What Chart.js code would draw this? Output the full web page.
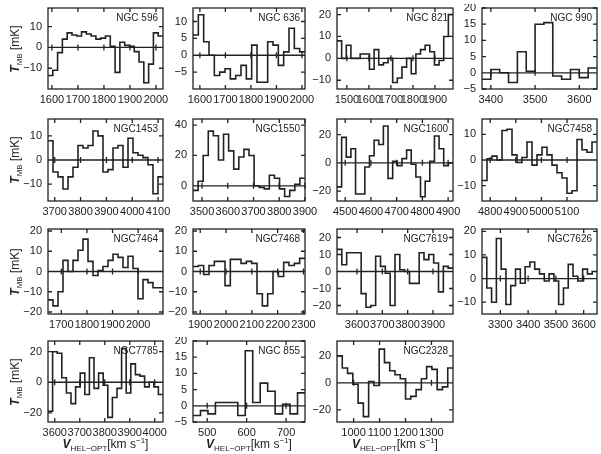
<!DOCTYPE html>
<html>
<head>
<meta charset="utf-8">
<script src="https://cdn.jsdelivr.net/npm/chart.js@4.4.1/dist/chart.umd.min.js"></script>
<style>
  body { margin: 0; background: #fff; width: 601px; height: 454px; position: relative; overflow: hidden;
         font-family: "Liberation Sans", Arial, sans-serif; color: #222; }
  canvas { position: absolute; }
  .ytitle { position: absolute; transform: translate(-50%, -50%) rotate(-90deg); font-size: 12px; white-space: nowrap; line-height: 1; }
  .xtitle { position: absolute; transform: translateX(-50%); font-size: 12px; white-space: nowrap; line-height: 1; }
  sub, sup { font-size: 8px; line-height: 0; }
  i { font-style: italic; font-weight: bold; }
</style>
</head>
<body>
<script>
// panel names, in reading order
const names = ["NGC 596", "NGC 636", "NGC 821", "NGC 990",
               "NGC1453", "NGC1550", "NGC1600", "NGC7458",
               "NGC7464", "NGC7468", "NGC7619", "NGC7626",
               "NGC7785", "NGC 855", "NGC2328"];

// velocity span covered by the channels of each spectrum [km/s]
const xRanges = [[1585, 2027], [1573, 2012], [1455, 1982], [3380, 3640],
                 [3674, 4119], [3465, 3900], [4468, 4919], [4768, 5217],
                 [1648, 2097], [1872, 2306], [3521, 3979], [3234, 3648],
                 [3573, 4033], [464, 748], [936, 1383]];

// axis limits of T_MB [mK]
const yRanges = [[-20, 19], [-10, 14], [-14, 23], [-5, 20],
                 [-17, 17], [-10, 44], [-27, 31], [-16, 16],
                 [-21, 21], [-21, 21], [-25, 25], [-15, 21],
                 [-26, 27], [-5, 20], [-29, 31]];

const xTicks = [[1600, 1700, 1800, 1900, 2000], [1600, 1700, 1800, 1900, 2000],
                [1500, 1600, 1700, 1800, 1900], [3400, 3500, 3600],
                [3700, 3800, 3900, 4000, 4100], [3500, 3600, 3700, 3800, 3900],
                [4500, 4600, 4700, 4800, 4900], [4800, 4900, 5000, 5100],
                [1700, 1800, 1900, 2000], [1900, 2000, 2100, 2200, 2300],
                [3600, 3700, 3800, 3900], [3300, 3400, 3500, 3600],
                [3600, 3700, 3800, 3900, 4000], [500, 600, 700],
                [1000, 1100, 1200, 1300]];

const yTicks = [[-10, 0, 10], [-5, 0, 5, 10], [-10, 0, 10, 20], [-5, 0, 5, 10, 15, 20],
                [-10, 0, 10], [0, 20, 40], [-20, 0, 20], [-10, 0, 10],
                [-20, -10, 0, 10, 20], [-20, -10, 0, 10, 20], [-20, -10, 0, 10, 20], [-10, 0, 10, 20],
                [-20, 0, 20], [-5, 0, 5, 10, 15, 20], [-20, 0, 20]];

// channel values [mK]
const ngc596  = [-13.5, -11, -2.5, 4, 7, 6, 5.5, 7.5, 6.5, 5.5, 4, 4.5, 5.5, 0.5, -12, 2.5, 1, 0.5, -2, -7, -17, -8, 7, 5.5];
const ngc636  = [6, 12, 4, 0, -6, -5, -4, -7, -6, -3, -7, 3, -8, -8, 4, 3, -3, 1, 8, 2, 1];
const ngc821  = [8, 0, 6, 0, 0, 2, 2, -5, 4, -3, -2, 0, -11, -9, -4, 0, -7, 2, 4, 6, 3, -3, -1, 10, 20];
const ngc990  = [-2, 1, 0, -3, 6.5, 0.5, 15, 15.5, -1, -2, 1, -1.5, 1.5];
const ngc1453 = [8, -5, -7, -12, -7, -3, 6, 5, 6, 12, 10, -5, -4, 5, 6, -3, 9, 3, 2, 1, -2, -14, -7];
const ngc1550 = [-3, 3, 20, 36, 33, 17, 34, 23, 11, 19, 24, 20, 0, -1, -2, 7, 5, -2, -7, -3, 1, 5];
const ngc1600 = [-17, 18, 4, 10, -22, -22, -3, 5, 16, 13, 26, -11, 1, -2, 3, 9, -1, -10, -24, -13, 1, 19, 10, -2, 0];
const ngc7458 = [-8, 0.5, 1.5, 0, 11.5, 12, 2, -1, 1, 7, -2, 2, 5, 2, -2, -5, -7, -13, -12, 8, 4, 3, 7];
const ngc7464 = [-14, -17, -10, 5.5, 0, 5.5, 10.5, 16, 5, -2, 0.5, 2.5, 5.5, 8.5, 7, 2, 7.5, 1.5, -13.5, -4, -5.5, -8, -8];
const ngc7468 = [2.5, 3, -1.5, 3, 5, 5, -7, 6, 6, 4, 5, 4, -11, -17, -11, 0, -2.5, 4.5, 3, 4, 6.5];
const ngc7619 = [13, 4, 11, 11, 11, -13, -21, -20, 9, 3, -1, -20, 10, 1, 0, -7, -7, 11, 7, 10, 5, -12, 3, 2];
const ngc7626 = [9, -4, -10, 17, 4, -11, -3, 4, -2, 5, 7, 4, 2, -1, 2, -1, -11, -4, 6, 1, -1, 4, 2, 3];
const ngc7785 = [-19, 20, 19, 3, -7, -14, -3, 6, -8, 16, -4, 6, -2, -23, -10, -4, 22, -7, 12, 5, 4, -3, 0, -3, -8];
const ngc855  = [-3, -1.5, -2.5, 1, 1, 1, -3, 17, 1, 7, 4.5, -2.5, 0.5, -2.5, 4];
const ngc2328 = [20, 11, 7, -1, -15, -25, 1, -2, 25, 15, 9, 6, 3, -12, -10, -5, 3, 12, 10, -5, -3, 11];

const spectra = [ngc596, ngc636, ngc821, ngc990, ngc1453, ngc1550, ngc1600, ngc7458,
                 ngc7464, ngc7468, ngc7619, ngc7626, ngc7785, ngc855, ngc2328];

// page layout of the plot boxes
const colLeft = [48, 193, 337, 482];
const colW = [115, 112, 116, 115];
const rowTop = [8, 119, 229, 341];
const rowH = [81, 82, 85, 81];
const YW = 34, XH = 20, PADT = 4, PADR = 16;
const FONT = '"Liberation Sans", Arial, sans-serif';
const INK = '#222';

// frame, inward ticks on all sides, zero line and panel name
const framePlugin = {
  id: 'frame',
  afterDatasetsDraw(chart, args, opts) {
    const { ctx, chartArea: a, scales: { x, y } } = chart;
    ctx.save();
    ctx.strokeStyle = INK;
    ctx.lineWidth = 1.3;
    ctx.strokeRect(a.left, a.top, a.right - a.left, a.bottom - a.top);
    const y0 = y.getPixelForValue(0);
    ctx.beginPath();
    ctx.moveTo(a.left, y0);
    ctx.lineTo(a.right, y0);
    x.ticks.forEach(t => {
      const px = x.getPixelForValue(t.value);
      ctx.moveTo(px, a.bottom); ctx.lineTo(px, a.bottom - 4);
      ctx.moveTo(px, a.top); ctx.lineTo(px, a.top + 4);
      ctx.moveTo(px, y0 - 3); ctx.lineTo(px, y0 + 3);
    });
    y.ticks.forEach(t => {
      const py = y.getPixelForValue(t.value);
      ctx.moveTo(a.left, py); ctx.lineTo(a.left + 4, py);
      ctx.moveTo(a.right, py); ctx.lineTo(a.right - 4, py);
    });
    ctx.stroke();
    ctx.fillStyle = INK;
    ctx.font = '10px ' + FONT;
    ctx.textAlign = 'right';
    ctx.textBaseline = 'alphabetic';
    ctx.fillText(opts.name, a.right - 5, a.top + 13);
    ctx.restore();
  }
};

function makePanel(i) {
  const row = Math.floor(i / 4), col = i % 4;
  const canvas = document.createElement('canvas');
  const w = YW + colW[col] + PADR, h = PADT + rowH[row] + XH;
  canvas.width = w;
  canvas.height = h;
  canvas.style.left = (colLeft[col] - YW) + 'px';
  canvas.style.top = (rowTop[row] - PADT) + 'px';
  canvas.style.width = w + 'px';
  canvas.style.height = h + 'px';
  document.body.appendChild(canvas);

  // channel edges; each value holds until the next edge
  const vals = spectra[i];
  const [x0, x1] = xRanges[i];
  const dv = (x1 - x0) / vals.length;
  const pts = vals.map((v, k) => ({ x: x0 + k * dv, y: v }));
  pts.push({ x: x1, y: vals[vals.length - 1] });

  const fixTicks = arr => scale => { scale.ticks = arr.map(v => ({ value: v })); };

  new Chart(canvas.getContext('2d'), {
    type: 'line',
    data: {
      datasets: [{
        data: pts,
        stepped: true,
        borderColor: INK,
        borderWidth: 1.6,
        pointRadius: 0,
        fill: false
      }]
    },
    options: {
      animation: false,
      responsive: false,
      maintainAspectRatio: false,
      layout: { autoPadding: false, padding: { top: PADT, right: PADR, left: 0, bottom: 0 } },
      scales: {
        x: {
          type: 'linear',
          min: x0, max: x1,
          afterBuildTicks: fixTicks(xTicks[i]),
          afterFit: s => { s.height = XH; s.paddingLeft = 0; s.paddingRight = 0; },
          grid: { display: false, drawTicks: false },
          border: { display: false },
          ticks: { autoSkip: false, maxRotation: 0, padding: 4, color: INK,
                   font: { family: FONT, size: 11 }, callback: v => String(v) }
        },
        y: {
          min: yRanges[i][0], max: yRanges[i][1],
          afterBuildTicks: fixTicks(yTicks[i]),
          afterFit: s => { s.width = YW; s.paddingTop = 0; s.paddingBottom = 0; },
          grid: { display: false, drawTicks: false },
          border: { display: false },
          ticks: { padding: 6, color: INK, font: { family: FONT, size: 11 },
                   callback: v => String(v).replace('-', '\u2212') }
        }
      },
      plugins: {
        legend: { display: false },
        tooltip: { enabled: false },
        frame: { name: names[i] }
      }
    },
    plugins: [framePlugin]
  });
}

names.forEach((n, i) => makePanel(i));

// axis titles
rowTop.forEach((top, r) => {
  const d = document.createElement('div');
  d.className = 'ytitle';
  d.innerHTML = '<i>T</i><sub>MB</sub> [mK]';
  d.style.left = '15px';
  d.style.top = (top + rowH[r] / 2) + 'px';
  document.body.appendChild(d);
});
[0, 1, 2].forEach(col => {
  const d = document.createElement('div');
  d.className = 'xtitle';
  d.innerHTML = '<i>V</i><sub>HEL\u2212OPT</sub>[km s<sup>\u22121</sup>]';
  d.style.left = (colLeft[col] + colW[col] / 2) + 'px';
  d.style.top = '438px';
  document.body.appendChild(d);
});
</script>
</body>
</html>
